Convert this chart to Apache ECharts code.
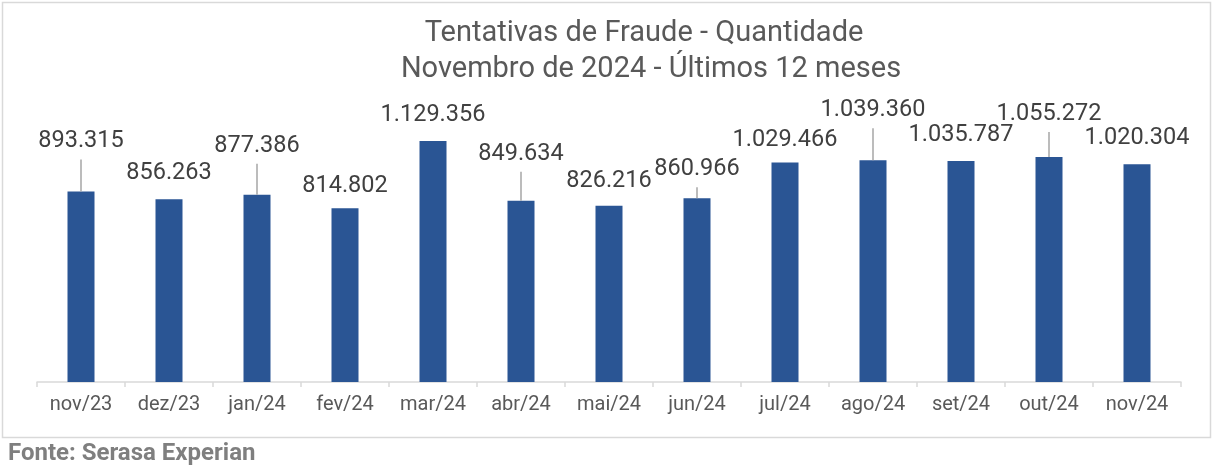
<!DOCTYPE html>
<html>
<head>
<meta charset="utf-8">
<script src="https://cdn.jsdelivr.net/npm/echarts@6/dist/echarts.min.js"></script>
<style>
html,body{margin:0;padding:0;background:#fff;}
#main{width:1213px;height:467px;}
</style>
</head>
<body>
<div id="main"></div>
<script>
const categories = ['nov/23','dez/23','jan/24','fev/24','mar/24','abr/24','mai/24','jun/24','jul/24','ago/24','set/24','out/24','nov/24'];
const values = [893315, 856263, 877386, 814802, 1129356, 849634, 826216, 860966, 1029466, 1039360, 1035787, 1055272, 1020304];
const titleLines = ['Tentativas de Fraude - Quantidade', 'Novembro de 2024 - Últimos 12 meses'];
const sourceText = 'Fonte: Serasa Experian';

// label placement (pixels above bar top) and whether a leader line is drawn
const labelLift = [50, 26, 49, 22, 26, 47, 25, 29, 22, 50, 26, 43, 26];
const leader = [true, false, true, false, false, true, false, true, false, true, false, true, false];

function fmt(v){ return String(v).replace(/\B(?=(\d{3})+(?!\d))/g, '.'); }

const chart = echarts.init(document.getElementById('main'), null, {renderer:'canvas'});
const FONT = 'Roboto';

chart.setOption({
  animation: false,
  backgroundColor: '#ffffff',
  grid: {left: 37, right: 32, top: 126, bottom: 85, containLabel: false},
  xAxis: {
    type: 'category',
    data: categories,
    boundaryGap: true,
    axisLine: {lineStyle: {color: '#d9d9d9', width: 1.5}},
    axisTick: {show: true, length: 5, lineStyle: {color: '#d9d9d9', width: 1.5}},
    axisLabel: {color: '#595959', fontFamily: FONT, fontSize: 20, margin: 13}
  },
  yAxis: {
    type: 'value', min: 0, max: 1200000, show: false,
    splitLine: {show: false}
  },
  graphic: [
    {type: 'rect', shape: {x: 2.5, y: 2.5, width: 1208, height: 435},
     style: {fill: null, stroke: '#d9d9d9', lineWidth: 1.5}, z: 0, silent: true},
    {type: 'text', x: 644, y: 34, style: {text: titleLines[0], fill: '#595959', font: '29px Roboto', textAlign: 'center', textVerticalAlign: 'middle'}},
    {type: 'text', x: 651, y: 70, style: {text: titleLines[1], fill: '#595959', font: '29px Roboto', textAlign: 'center', textVerticalAlign: 'middle'}},
    {type: 'text', x: 8, y: 454, style: {text: sourceText, fill: '#7f7f7f', font: 'bold 24px Roboto', textAlign: 'left', textVerticalAlign: 'middle'}}
  ],
  series: [
    {
      type: 'bar',
      data: values,
      barWidth: 27,
      itemStyle: {color: '#2a5594'},
      z: 2
    },
    {
      type: 'custom',
      data: values.map((v, i) => [i, v]),
      z: 3,
      renderItem: function (params, api) {
        const i = api.value(0);
        const v = api.value(1);
        const p = api.coord([i, v]);
        const lift = labelLift[i];
        const children = [];
        if (leader[i]) {
          children.push({
            type: 'line',
            shape: {x1: p[0], y1: p[1], x2: p[0], y2: p[1] - lift + 18},
            style: {stroke: '#a6a6a6', lineWidth: 1.5}
          });
        }
        children.push({
          type: 'text',
          x: p[0], y: p[1] - lift,
          style: {text: fmt(v), fill: '#404040', font: '23.5px Roboto', textAlign: 'center', textVerticalAlign: 'middle'}
        });
        return {type: 'group', children: children};
      }
    }
  ]
});
</script>
</body>
</html>
